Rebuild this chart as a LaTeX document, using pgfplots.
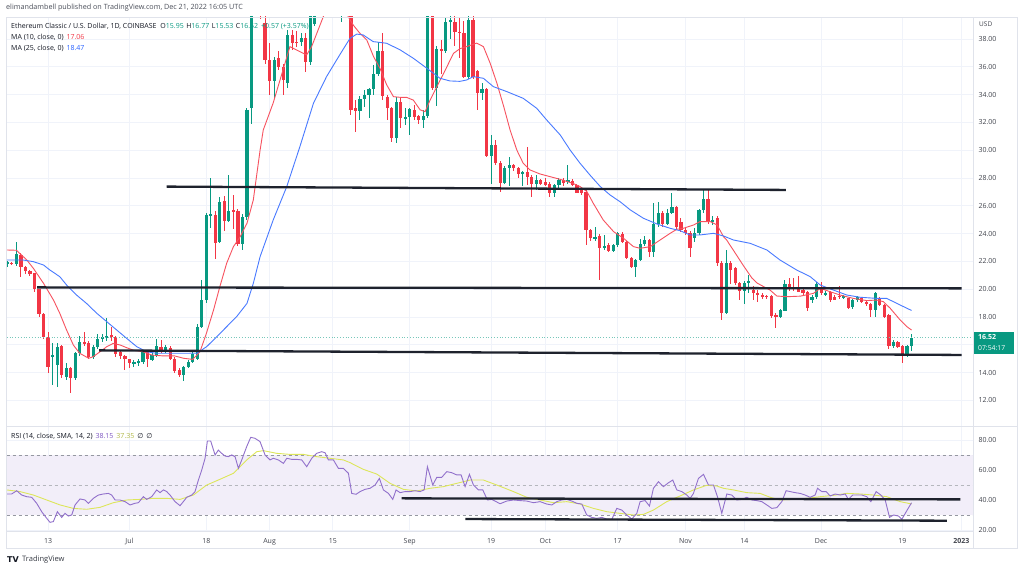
\documentclass[border=0pt]{standalone}
\usepackage{fontspec}
\setmainfont{Open Sans}
\newfontfamily\dejavu{DejaVu Sans}
\usepackage{pgfplots}
\usepackage{pgfplotstable}
\pgfplotsset{compat=1.18}
\definecolor{tvgreen}{HTML}{089981}
\definecolor{tvred}{HTML}{F23645}
\definecolor{maten}{HTML}{F7525F}
\definecolor{matwf}{HTML}{2962FF}
\definecolor{rsicol}{HTML}{7E57C2}
\definecolor{rsima}{HTML}{DDE65A}
\definecolor{tvgrid}{HTML}{F0F3FA}
\definecolor{tvborder}{HTML}{E0E3EB}
\definecolor{tvtext}{HTML}{131722}
\definecolor{tvhead}{HTML}{4A4E59}
\definecolor{dashgray}{HTML}{9598A1}
\definecolor{bandcol}{HTML}{F2EEF9}
\definecolor{lineblk}{HTML}{1E222D}

\pgfplotstableread{
d o h l c
3 21.85 22.05 21.6 21.92
5 21.79 23.4 21.7 22.53
13 15.12 16.1 13.1 15.28
14 14.55 16.1 12.95 15.86
16 13.7 14.7 13.45 14.3
18 13.63 15.5 13.5 15.38
19 15.38 16.6 15.2 16.2
22 15.14 16.0 15.0 15.86
23 15.86 16.8 15.7 16.41
24 16.41 16.8 16.2 16.53
25 16.46 17.9 16.3 16.63
31 14.66 14.9 14.4 14.78
32 14.7 15.0 14.5 14.83
33 14.78 15.6 14.6 15.5
35 14.9 15.4 14.8 15.26
36 15.2 16.4 15.1 15.9
38 15.5 16.0 15.4 15.86
42 13.83 14.5 13.4 14.42
43 14.38 14.9 14.3 14.79
44 14.79 15.5 14.7 15.33
45 15.0 17.5 14.9 17.3
46 17.3 20.66 17.2 19.22
47 19.22 25.5 19.0 25.34
48 25.3 27.97 24.4 25.4
50 23.42 26.65 23.3 26.3
52 24.9 28.2 24.8 25.6
55 23.25 25.4 22.8 25.2
56 25.2 33.0 25.0 32.9
57 33.0 41.5 31.9 40.6
58 40.6 45.0 39.9 41.8
62 35.0 36.7 33.7 36.5
65 34.8 38.65 34.5 38.3
68 37.76 38.4 37.5 38.05
70 36.37 41.0 36.1 39.8
71 39.1 41.5 38.9 40.9
72 40.9 42.3 40.0 41.8
74 41.0 44.0 40.5 43.2
77 39.9 41.0 39.2 40.4
78 40.0 40.6 39.7 40.2
81 32.8 33.9 32.2 33.7
82 33.7 34.3 33.1 34.0
83 34.0 34.5 32.3 34.4
84 34.4 36.1 33.97 35.46
85 35.46 37.8 35.3 37.1
89 30.9 33.85 30.5 33.5
91 32.3 33.0 31.8 32.4
92 32.4 33.0 31.1 32.94
95 32.2 32.9 31.6 32.45
96 32.45 40.5 32.3 40.0
98 34.45 37.5 33.2 37.3
100 37.16 39.5 37.0 39.2
101 39.25 39.8 38.0 39.37
105 35.29 39.7 35.1 39.37
108 34.09 34.8 33.6 34.4
110 29.58 31.1 27.6 30.37
113 27.66 28.85 27.6 28.7
114 28.7 29.5 27.4 28.9
117 28.3 28.5 27.4 28.45
120 27.57 28.2 27.1 27.86
124 26.95 27.6 26.6 27.5
125 27.5 28.0 27.3 27.86
127 27.74 28.9 27.6 27.86
133 23.65 24.5 23.5 23.75
135 22.94 23.9 22.8 23.1
137 22.77 23.25 22.7 23.18
138 23.18 24.1 23.05 24.02
142 21.62 22.2 20.9 22.1
143 22.1 23.6 22.0 23.25
144 23.25 23.8 23.1 23.54
146 22.7 26.18 22.34 24.69
147 24.69 26.3 24.5 25.5
149 24.69 25.8 24.6 25.5
150 25.5 26.9 25.4 25.89
155 23.66 24.4 23.4 24.02
156 24.02 25.8 23.9 25.7
157 25.7 27.14 25.5 26.46
159 24.86 25.3 24.6 25.0
162 18.31 22.8 18.2 21.91
166 19.87 20.6 18.9 20.47
167 20.47 21.0 19.7 20.6
174 18.0 18.6 17.9 18.5
175 18.46 20.66 18.4 20.35
181 19.22 19.6 19.0 19.41
182 19.41 20.55 19.3 20.35
184 19.6 19.9 19.5 19.75
188 19.42 19.6 19.3 19.5
190 18.74 19.3 18.6 19.22
191 19.22 19.5 19.1 19.41
195 18.5 19.8 18.0 19.75
199 15.91 16.35 15.8 16.23
202 15.2 16.0 15.1 15.95
203 15.95 16.77 15.53 16.52
}\greendata

\pgfplotstableread{
d o h l c
4 21.9 21.95 21.75 21.8
6 22.46 22.6 20.9 21.57
7 21.57 21.7 21.1 21.33
8 21.33 21.4 20.95 21.09
9 21.14 21.2 19.82 19.99
10 19.99 20.0 18.0 18.2
11 18.2 18.3 16.4 16.53
12 16.53 16.9 14.0 14.42
15 15.9 16.0 13.6 13.83
17 14.3 14.4 12.5 13.63
20 16.2 16.95 15.9 16.1
21 16.15 16.3 15.0 15.14
26 16.7 17.3 16.3 16.53
27 16.53 16.6 15.1 15.34
28 15.5 15.6 15.0 15.2
29 15.2 15.3 14.2 14.95
30 14.95 15.0 14.3 14.66
34 15.5 15.6 14.4 15.0
37 15.86 16.35 15.4 15.5
39 15.8 15.9 14.9 15.0
40 15.0 15.1 14.0 14.13
41 14.2 14.3 13.7 13.83
49 25.34 25.6 22.2 23.35
51 26.37 26.7 24.2 24.9
53 25.7 26.8 24.3 25.6
54 25.63 25.8 23.1 23.25
59 41.8 42.2 39.4 39.8
60 39.15 39.9 36.2 36.49
61 36.5 37.7 34.0 35.0
63 36.6 37.1 35.8 36.0
64 36.0 36.2 34.0 35.05
66 38.3 38.65 37.2 37.7
67 37.8 38.6 37.4 37.7
69 38.05 38.4 35.6 36.37
73 41.8 42.5 40.3 41.0
75 43.2 44.8 40.5 41.2
76 41.2 41.6 39.8 40.4
79 40.2 40.4 32.5 32.89
80 33.0 33.6 31.3 32.8
86 37.1 38.4 33.6 33.9
87 33.85 34.0 32.2 33.0
88 33.0 33.1 30.6 30.9
90 33.5 33.85 31.6 32.3
93 32.9 33.25 32.2 32.4
94 32.45 32.5 31.9 32.2
97 40.5 41.5 34.3 34.45
99 37.3 37.9 35.5 37.1
102 39.25 39.8 37.5 38.53
103 38.53 39.5 36.6 38.4
104 38.4 39.3 35.2 35.29
106 39.37 39.8 35.1 35.29
107 35.7 35.8 32.9 34.09
109 34.4 34.45 29.5 29.58
111 30.37 30.7 28.9 29.06
112 29.06 29.2 27.0 27.66
115 28.9 29.0 28.5 28.7
116 28.7 28.8 28.0 28.3
118 28.45 30.2 27.5 28.1
119 28.1 28.2 26.65 27.57
121 27.86 27.9 27.5 27.6
122 27.7 28.0 27.4 27.5
123 27.6 27.7 26.65 26.95
126 27.86 28.0 27.4 27.62
128 27.81 27.95 27.4 27.5
129 27.5 27.6 26.9 26.94
130 27.1 27.2 26.8 26.94
131 27.0 27.1 23.2 24.26
132 24.26 24.3 23.5 23.66
134 23.83 24.0 20.66 22.94
136 23.18 23.3 22.7 22.77
139 23.97 24.1 23.3 23.42
140 23.42 23.5 22.2 22.27
141 22.27 22.3 21.5 21.62
145 23.54 23.6 22.3 22.7
148 25.5 25.6 24.5 24.69
151 25.89 26.0 24.3 24.5
152 24.86 25.1 24.1 24.26
153 24.26 24.4 23.9 24.07
154 24.07 24.2 22.34 22.94
158 26.46 27.18 24.7 24.86
160 25.1 25.3 21.7 21.91
161 21.91 22.0 17.8 18.31
163 21.91 22.0 20.4 21.38
164 21.5 21.6 20.3 20.42
165 20.42 20.55 19.2 19.87
168 19.94 20.2 19.2 19.7
169 19.75 19.94 19.1 19.6
170 19.58 19.7 19.3 19.5
171 19.5 19.55 19.3 19.46
172 19.51 19.6 17.9 18.07
173 18.14 18.3 17.2 18.0
176 20.35 20.8 19.9 20.18
177 20.18 20.8 19.9 20.0
178 19.99 20.95 19.8 19.82
179 19.94 20.1 19.6 19.75
180 19.82 19.9 18.4 18.62
183 20.18 20.55 19.6 19.75
185 19.82 19.9 19.1 19.22
186 19.46 19.6 19.2 19.22
187 19.5 20.2 19.3 19.46
189 19.34 19.4 18.6 18.67
192 19.34 19.45 19.0 19.1
193 19.1 19.2 18.8 18.91
194 18.91 19.0 18.0 18.5
196 19.27 19.45 18.8 18.86
197 18.86 18.95 17.9 18.02
198 18.14 18.2 15.7 15.91
200 16.23 16.25 15.8 15.87
201 15.91 16.0 14.7 15.2
}\reddata

\pgfplotsset{
  candlewick/.style={only marks, mark=*, mark size=0pt,
    mark options={draw opacity=0, fill opacity=0}, forget plot,
    error bars/.cd, y dir=both, y explicit, error mark=none,
    error bar style={draw=#1, draw opacity=1, line width=1pt}},
  candlebody/.style={only marks, mark=*, mark size=0pt,
    mark options={draw opacity=0, fill opacity=0}, forget plot,
    error bars/.cd, y dir=both, y explicit, error mark=none,
    error bar style={draw=#1, draw opacity=1, line width=3.2pt}},
  tvaxis/.style={
    scale only axis, width=966.3pt, xmin=2.85, xmax=216.6,
    axis line style={draw=tvborder, line width=0.8pt},
    xtick={12,30,47,61,75,92,110,122,138,153,166,183,201,214},
    grid=major, major grid style={draw=tvgrid, line width=0.8pt},
    major tick length=0pt,
    yticklabel pos=right,
    tick label style={font=\fontsize{7}{8}\selectfont, text=tvtext!80},
    yticklabel style={anchor=west, xshift=2pt},
  },
}

\begin{document}
\begin{tikzpicture}[x=1pt,y=1pt]
\useasboundingbox (0,0) rectangle (1024,572);
\fill[white] (0,0) rectangle (1024,572);

% main price pane
\begin{axis}[tvaxis,
  at={(6.7pt,146pt)}, anchor=south west, height=409pt,
  ymin=10.16, ymax=39.58, ytick={12,14,...,38},
  yticklabels={12.00,14.00,,18.00,20.00,22.00,24.00,26.00,28.00,30.00,32.00,34.00,36.00,38.00},
  xticklabels={},
]
\addplot[candlewick=tvgreen] table[x=d, y expr={(\thisrow{h}+\thisrow{l})/2}, y error expr={(\thisrow{h}-\thisrow{l})/2}] {\greendata};
\addplot[candlebody=tvgreen] table[x=d, y expr={(\thisrow{o}+\thisrow{c})/2}, y error expr={max(abs(\thisrow{c}-\thisrow{o})/2,0.04)}] {\greendata};
\addplot[candlewick=tvred] table[x=d, y expr={(\thisrow{h}+\thisrow{l})/2}, y error expr={(\thisrow{h}-\thisrow{l})/2}] {\reddata};
\addplot[candlebody=tvred] table[x=d, y expr={(\thisrow{o}+\thisrow{c})/2}, y error expr={max(abs(\thisrow{c}-\thisrow{o})/2,0.04)}] {\reddata};

% MA 10
\addplot[draw=maten, line width=0.9pt] coordinates {
(2.85,22.82) (5,22.8) (7.3,22.1) (8.75,21.5) (11,20.42) (13.2,19.22) (14.6,18.26) (16.1,17.06) (17.6,15.98) (19,15.39) (21,15.03) (22,15.15) (23.5,15.5) (25,15.87) (26.4,16.1) (28,15.98) (29.4,15.79) (31,15.6) (33,15.5) (35,15.26) (37.5,15.2) (40,15.2) (42,15.03) (44,14.95) (45.6,15.5) (47,16.8) (48.6,18.5) (50,20.18) (51.5,21.86) (53,23.06) (54.5,23.78) (56,24.74) (57.4,26.42) (58.9,30.0) (59.6,31.45) (61.8,33.4) (64,35.8) (65.5,37.45) (67,37.2) (69.2,36.85) (70.3,37.45) (73.6,40.2) (76,41.5) (78.4,39.6) (79.5,39.0) (81,38.4) (82.5,37.93) (84,36.73) (85.4,35.9) (86.9,34.7) (88.4,33.85) (89.9,33.8) (91.3,33.8) (92.8,33.6) (94.3,32.9) (95.4,32.77) (96.5,33.6) (98,34.57) (99.5,35.53) (101.7,36.97) (103.1,37.3) (104.6,37.45) (106.8,37.7) (108.3,37.45) (109.8,36.25) (111.3,34.8) (112.8,33.13) (114.2,31.45) (115.7,30.0) (117.1,29.06) (118.6,28.58) (120.8,28.29) (123,28.1) (125.3,27.9) (128.2,27.6) (129.7,27.38) (131.2,27.02) (132.6,26.18) (134.8,24.98) (137.1,24.14) (139.3,23.66) (141.5,23.06) (143,22.94) (145.2,23.06) (147.4,23.54) (149.6,24.02) (151.1,24.31) (152.5,24.38) (154.8,24.62) (156.2,24.86) (158.5,24.86) (160,24.62) (161.4,23.78) (162.1,23.54) (163.6,22.8) (165.8,21.7) (167.7,20.8) (168.8,20.45) (170.2,20.2) (171.7,19.94) (173.2,19.51) (175.4,19.46) (178.4,19.5) (181.3,19.7) (182.8,20.06) (185,19.82) (187.2,19.58) (190.1,19.34) (193.1,19.18) (195.3,19.22) (196.8,19.1) (198.3,18.62) (200.5,17.78) (202,17.3) (203,17.06)
};
% MA 25
\addplot[draw=matwf!85, line width=0.9pt] coordinates {
(2.85,22.1) (6.5,22.1) (8.75,21.98) (11,21.74) (12.4,21.38) (14.6,20.9) (16.1,20.3) (18.3,19.58) (20.5,18.98) (22.8,18.26) (25,17.66) (27.2,17.06) (29.4,16.46) (31.6,15.87) (33.8,15.5) (36,15.39) (38.2,15.39) (40.5,15.39) (42.7,15.39) (44.9,15.39) (47.1,15.87) (49.3,16.58) (51.5,17.3) (53.7,18.02) (56,18.98) (57.4,20.42) (58.9,22.34) (61.8,24.98) (64.8,27.38) (67.7,30.25) (70.7,33.37) (73.6,35.29) (76.6,36.9) (78.8,38.05) (80.3,38.35) (81.7,38.29) (83.9,37.81) (86.9,37.69) (89.9,37.21) (92.8,36.61) (95.8,35.89) (98.7,35.17) (100.9,34.98) (103.1,34.95) (104.6,35.05) (106.1,35.29) (108.3,35.17) (110.5,34.57) (113.5,34.21) (117.1,33.73) (120.1,33.01) (122.3,32.17) (125.3,31.09) (127.5,30.0) (129.7,29.05) (131.9,28.2) (134.1,27.4) (136.3,26.78) (138.5,26.3) (140.8,25.7) (143.7,25.1) (146.7,24.69) (149.6,24.38) (151.8,24.21) (154,23.9) (156.2,23.9) (159.2,24.02) (161.4,23.83) (163.6,23.54) (167.3,23.3) (171,22.82) (173.9,22.1) (177.6,21.38) (180.6,20.9) (182.8,20.3) (185.7,19.94) (188.7,19.58) (191.6,19.42) (195.3,19.34) (197.5,19.34) (200.5,18.86) (203,18.47)
};
% current price line
\addplot[draw=tvgreen!55, dotted, line width=0.8pt] coordinates {(2.85,16.52) (216.6,16.52)};
% drawn support / resistance lines
\addplot[draw=lineblk, line width=2.3pt] coordinates {(38.2,27.38) (175.2,27.14)};
\addplot[draw=lineblk, line width=2.3pt] coordinates {(9.6,20.13) (214.1,20.06)};
\addplot[draw=lineblk, line width=2.3pt] coordinates {(23.3,15.6) (214.1,15.27)};
\end{axis}

% RSI pane
\begin{axis}[tvaxis,
  at={(6.7pt,41pt)}, anchor=south west, height=105pt,
  ymin=19.33, ymax=89.33, ytick={20,40,60,80},
  yticklabels={20.00,40.00,60.00,80.00},
  xticklabels={13,Jul,18,Aug,15,Sep,19,Oct,17,Nov,14,Dec,19,\textbf{2023}},
  xticklabel style={yshift=-4pt},
]
\addplot[fill=bandcol, draw=none] coordinates {(2.85,30) (216.6,30) (216.6,70) (2.85,70)} -- cycle;
\addplot[draw=dashgray, line width=0.6pt, dash pattern=on 3pt off 3pt] coordinates {(2.85,70) (216.6,70)};
\addplot[draw=dashgray!70, line width=0.6pt, dash pattern=on 3pt off 3pt] coordinates {(2.85,50) (216.6,50)};
\addplot[draw=dashgray, line width=0.6pt, dash pattern=on 3pt off 3pt] coordinates {(2.85,30) (216.6,30)};
\addplot[draw=rsima, line width=0.9pt] coordinates {
(2.85,46.7) (5.8,45.6) (8.75,43.3) (11.7,40.0) (14.65,36.7) (17.6,34.4) (20.55,33.8) (23.5,35.1) (26.45,38.2) (29.4,40.0) (32.35,40.4) (35.3,41.1) (38.25,41.1) (41.19,40.4) (44.14,43.3) (47.1,50.0) (50.04,53.8) (53.0,57.8) (55.94,66.7) (58.16,72.2) (59.63,72.9) (62.58,71.1) (65.53,70.4) (68.48,70.4) (71.43,68.9) (74.38,67.8) (77.33,66.7) (78.8,64.9) (81.76,60.4) (84.71,57.3) (87.66,51.1) (90.6,47.1) (93.55,46.0) (96.5,47.8) (99.45,48.9) (102.4,51.1) (105.35,53.3) (108.3,53.3) (111.25,50.0) (114.94,45.6) (117.89,41.8) (120.84,40.0) (123.79,38.2) (126.74,38.9) (129.69,37.3) (132.64,34.4) (135.59,32.2) (138.54,31.1) (141.49,30.0) (143.7,30.4) (145.91,33.3) (148.86,38.9) (151.81,42.7) (154.76,46.7) (157.71,49.8) (159.93,49.3) (161.4,47.8) (163.61,46.7) (166.56,44.9) (169.51,44.4) (171.73,41.8) (173.94,40.0) (176.9,40.4) (179.84,41.1) (182.79,42.2) (185.74,43.1) (188.69,44.4) (191.64,44.0) (194.59,43.3) (197.53,42.2) (200.49,38.9) (203,37.35)
};
\addplot[draw=rsicol!85, line width=0.9pt] coordinates {
(2.85,44.0) (3.95,44.0) (5.06,46.2) (6.17,43.3) (7.27,42.2) (8.38,41.8) (9.48,37.8) (10.59,32.2) (11.7,27.8) (12.43,25.1) (13.17,25.6) (14.06,32.2) (15.02,28.4) (15.75,31.1) (16.49,29.3) (17.23,30.0) (17.97,36.7) (19.07,40.7) (20.18,40.0) (20.91,37.8) (22.02,41.1) (23.13,43.3) (24.23,44.0) (25.34,44.4) (26.08,43.3) (26.82,40.0) (27.92,40.0) (29.03,38.9) (30.13,36.7) (31.24,37.8) (31.98,38.2) (33.08,42.2) (33.82,40.4) (34.93,42.2) (36.03,46.7) (36.77,44.9) (37.51,46.7) (38.25,45.6) (38.98,43.3) (40.09,38.9) (41.19,36.2) (41.93,38.9) (42.67,41.8) (43.78,43.3) (44.51,45.6) (45.25,53.3) (45.99,60.0) (46.73,67.8) (47.24,79.3) (47.98,79.3) (48.94,70.0) (49.67,73.3) (50.41,71.1) (51.15,69.3) (51.89,68.9) (52.63,70.0) (53.36,68.9) (54.1,61.1) (54.84,66.7) (55.94,75.6) (56.83,81.8) (57.79,81.1) (58.89,78.9) (60.0,70.0) (61.11,66.7) (61.84,67.8) (62.95,66.7) (64.06,64.4) (64.8,67.8) (65.9,67.1) (67.0,67.1) (68.11,66.7) (69.22,62.2) (70.33,67.8) (71.43,71.1) (72.54,72.2) (73.28,71.5) (74.01,66.7) (75.12,66.7) (76.22,61.1) (77.33,61.1) (78.44,57.8) (79.17,44.4) (80.13,43.8) (81.02,45.6) (82.12,47.1) (83.23,47.8) (84.34,50.0) (85.29,54.4) (86.18,46.7) (87.29,44.4) (88.25,40.4) (88.98,46.7) (89.87,44.9) (90.97,45.6) (92.08,45.6) (93.19,46.2) (94.29,45.6) (95.18,46.7) (95.91,62.2) (97.1,50.0) (97.98,55.1) (99.08,55.1) (100.19,58.9) (101.3,58.2) (102.4,56.7) (103.36,56.7) (104.25,48.9) (105.21,57.1) (106.09,50.0) (107.2,46.7) (108.16,46.7) (109.19,40.0) (110.15,40.4) (111.1,38.9) (112.0,37.5) (113.46,39.3) (114.94,40.0) (116.41,39.6) (117.89,39.3) (119.36,38.2) (120.84,38.9) (122.31,37.3) (123.42,36.7) (124.53,38.9) (125.63,40.0) (126.74,40.4) (127.85,39.3) (128.95,37.8) (130.06,37.3) (131.16,30.0) (132.27,28.4) (133.38,27.8) (134.48,28.4) (135.59,27.3) (136.7,27.1) (137.8,34.4) (138.91,33.3) (140.01,30.0) (141.12,27.3) (142.23,31.1) (142.96,38.9) (144.07,39.6) (145.03,36.0) (145.91,47.8) (147.02,52.2) (148.13,48.9) (149.23,51.5) (150.19,53.3) (151.08,46.7) (152.18,45.6) (153.29,43.3) (154.03,41.1) (154.76,44.4) (155.87,54.4) (156.98,57.1) (158.08,50.0) (159.19,50.0) (160.07,42.2) (161.03,31.1) (162.14,44.0) (163.24,43.3) (164.35,40.0) (165.46,40.4) (166.56,41.8) (167.67,40.0) (168.77,39.6) (169.88,38.9) (170.99,36.7) (172.09,34.4) (173.2,34.9) (174.31,38.9) (175.26,46.2) (176.15,45.6) (177.26,44.9) (178.36,44.4) (179.47,43.3) (180.57,41.8) (181.68,43.3) (182.2,47.8) (183.15,45.6) (184.11,45.6) (185.0,42.7) (186.11,44.0) (187.21,43.3) (188.32,44.0) (189.05,40.4) (190.01,43.3) (190.9,43.3) (192.0,43.3) (193.11,42.2) (194.0,38.9) (195.18,45.6) (196.21,43.3) (197.17,40.0) (198.13,28.4) (199.01,30.0) (200.12,29.3) (200.85,27.1) (201.96,32.9) (203,38.15)
};
\addplot[draw=lineblk, line width=2.3pt] coordinates {(90.2,41.1) (213.8,40.4)};
\addplot[draw=lineblk, line width=2.3pt] coordinates {(104.3,27.3) (210.8,26.2)};
\end{axis}

% frame lines
\draw[tvborder, line width=0.8pt] (6.2,24) rectangle (1017,555);
\draw[tvborder, line width=0.8pt] (973,24) -- (973,555);
\draw[tvborder, line width=0.8pt] (6.2,146) -- (1017,146);

% price tag
\fill[tvgreen] (973.5,218) rectangle (1014,240);
\node[anchor=west, inner sep=0, text=white, font=\fontsize{7}{8}\selectfont\bfseries] at (978,234.5) {16.52};
\node[anchor=west, inner sep=0, text=white, font=\fontsize{6.8}{8}\selectfont] at (978,223.5) {07:54:17};
\node[anchor=west, inner sep=0, text=tvtext!80, font=\fontsize{6.5}{8}\selectfont] at (979,548) {USD};

% header and legends
\node[anchor=west, inner sep=0, text=tvhead, font=\fontsize{7.2}{8}\selectfont] at (6,564) {elimandambell published on TradingView.com, Dec 21, 2022 16:05 UTC};
\node[anchor=west, inner sep=0, text=tvtext, font=\fontsize{7}{8}\selectfont] at (11,546) {Ethereum Classic / U.S. Dollar, 1D, COINBASE\hspace{4pt}O\textcolor{tvgreen}{15.95}\hspace{2.5pt}H\textcolor{tvgreen}{16.77}\hspace{2.5pt}L\textcolor{tvgreen}{15.53}\hspace{2.5pt}C\textcolor{tvgreen}{16.52}\hspace{3pt}\textcolor{tvgreen}{+0.57 (+3.57\%)}};
\node[anchor=west, inner sep=0, text=tvtext, font=\fontsize{7}{8}\selectfont] at (11,535) {MA (10, close, 0)\hspace{3pt}\textcolor{tvred}{17.06}};
\node[anchor=west, inner sep=0, text=tvtext, font=\fontsize{7}{8}\selectfont] at (11,524) {MA (25, close, 0)\hspace{3pt}\textcolor{matwf}{18.47}};
\node[anchor=west, inner sep=0, text=tvtext, font=\fontsize{7}{8}\selectfont] at (11,136) {RSI (14, close, SMA, 14, 2)\hspace{3pt}\textcolor{rsicol}{38.15}\hspace{3pt}\textcolor{rsima!80!black}{37.35}\hspace{3pt}{\dejavu ∅\hspace{3pt}∅}};

% TradingView logo
\node[anchor=west, inner sep=0, text=tvtext, font=\fontsize{8}{9}\selectfont\dejavu\bfseries] at (7,12) {TV};
\node[anchor=west, inner sep=0, text=tvtext!85, font=\fontsize{7.5}{9}\selectfont] at (22,12) {TradingView};
\end{tikzpicture}
\end{document}
